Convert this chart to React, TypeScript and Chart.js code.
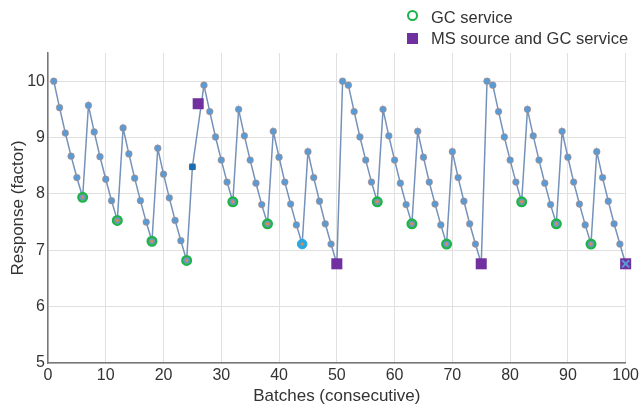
import React, { useEffect, useRef } from "react";
import { Chart, registerables } from "chart.js";

Chart.register(...registerables);

const FONT = "'Liberation Sans', Arial, sans-serif";

const batches: number[] = Array.from({ length: 100 }, (_, i) => i + 1);

const response: (number | null)[] = [
  10.0, 9.53, 9.08, 8.67, 8.29, 7.94,
  9.57, 9.1, 8.66, 8.26, 7.88, 7.53,
  9.17, 8.71, 8.28, 7.88, 7.5, 7.16,
  8.81, 8.35, 7.93, 7.53, 7.17, 6.82,
  8.48, null,
  9.93, 9.46, 9.01, 8.6, 8.21, 7.86,
  9.5, 9.03, 8.6, 8.19, 7.81, 7.47,
  9.11, 8.65, 8.21, 7.82, 7.45, 7.11,
  8.75, 8.29, 7.87, 7.47, 7.11, 6.76,
  10.0, 9.93, 9.46, 9.01, 8.6, 8.21, 7.86,
  9.5, 9.03, 8.6, 8.19, 7.81, 7.47,
  9.11, 8.65, 8.21, 7.82, 7.45, 7.11,
  8.75, 8.29, 7.87, 7.47, 7.11, 6.76,
  10.0, 9.93, 9.46, 9.01, 8.6, 8.21, 7.86,
  9.5, 9.03, 8.6, 8.19, 7.81, 7.47,
  9.11, 8.65, 8.21, 7.82, 7.45, 7.11,
  8.75, 8.29, 7.87, 7.47, 7.11, 6.76,
];

const gcServiceBatches = [6, 12, 18, 24, 32, 38, 57, 63, 69, 82, 88, 94];
const highlightBatches = [44];
const interimBatches = [25];
const msSourceBatches = [26, 50, 75, 100];
const msSourceValues = [9.6, 6.76, 6.76, 6.76];
const lastBatches = [100];

const xTicks = { min: 0, max: 100, step: 10 };
const yTicks = { min: 5, max: 10.5, step: 1 };

const pts = (list: number[]) =>
  list.map((b) => ({ x: b, y: response[b - 1] as number }));

export default function App() {
  const ref = useRef<HTMLCanvasElement | null>(null);

  useEffect(() => {
    if (!ref.current) return;
    const tickFont = { family: FONT, size: 16 };
    const titleFont = { family: FONT, size: 17 };
    const chart = new Chart(ref.current, {
      type: "line",
      data: {
        datasets: [
          {
            label: "X",
            data: pts(lastBatches),
            showLine: false,
            pointStyle: "crossRot",
            pointRadius: 5,
            pointBorderColor: "#5b9bd5",
            pointBorderWidth: 2,
            clip: false,
            order: 1,
          },
          {
            label: "interim",
            data: pts(interimBatches),
            showLine: false,
            pointStyle: "rect",
            pointRadius: 4.5,
            pointBackgroundColor: "#1b6cb3",
            pointBorderWidth: 0,
            clip: false,
            order: 2,
          },
          {
            label: "MS source and GC service",
            data: msSourceBatches.map((b, i) => ({ x: b, y: msSourceValues[i] })),
            showLine: false,
            pointStyle: "rect",
            pointRadius: 7.8,
            pointBackgroundColor: "#7030a0",
            pointBorderWidth: 0,
            clip: false,
            order: 3,
          },
          {
            label: "centers",
            data: pts([...gcServiceBatches, ...highlightBatches]),
            showLine: false,
            pointRadius: 1.7,
            pointBackgroundColor: "#d98a5a",
            pointBorderWidth: 0,
            clip: false,
            order: 4,
          },
          {
            label: "GC service",
            data: pts(gcServiceBatches),
            showLine: false,
            pointRadius: 4.3,
            pointBackgroundColor: "rgba(0,0,0,0)",
            pointBorderColor: "#1db34b",
            pointBorderWidth: 2.4,
            clip: false,
            order: 5,
          },
          {
            label: "highlight",
            data: pts(highlightBatches),
            showLine: false,
            pointRadius: 4.8,
            pointBackgroundColor: "#27a9e1",
            pointBorderColor: "#27a9e1",
            pointBorderWidth: 1,
            clip: false,
            order: 6,
          },
          {
            label: "Response",
            data: response.map((y, i) => ({ x: batches[i], y })),
            borderColor: "#7592bb",
            borderWidth: 1.5,
            pointRadius: 3.4,
            pointBackgroundColor: "#5b9bd5",
            pointBorderColor: "rgba(230,130,70,0.5)",
            pointBorderWidth: 0.8,
            spanGaps: true,
            tension: 0,
            order: 10,
          },
        ],
      },
      options: {
        animation: false,
        responsive: false,
        devicePixelRatio: 1,
        layout: { padding: { top: 53, right: 15, left: 0, bottom: 0 } },
        plugins: {
          legend: { display: false },
          tooltip: { enabled: false },
        },
        scales: {
          x: {
            type: "linear",
            min: xTicks.min,
            max: xTicks.max,
            ticks: {
              stepSize: xTicks.step,
              padding: 3,
              color: "#333",
              font: tickFont,
              maxRotation: 0,
            },
            grid: { color: "#e0e0e0", drawTicks: false, lineWidth: 1 },
            border: { color: "#777", width: 1.5 },
            title: {
              display: true,
              text: "Batches (consecutive)",
              color: "#333",
              font: titleFont,
              padding: { top: 0, bottom: 1 },
            },
            afterFit: (s: any) => {
              s.height = 45;
            },
          },
          y: {
            min: yTicks.min,
            max: yTicks.max,
            ticks: {
              stepSize: yTicks.step,
              includeBounds: false,
              padding: 3,
              color: "#333",
              font: tickFont,
            },
            grid: { color: "#e0e0e0", drawTicks: false, lineWidth: 1 },
            border: { color: "#777", width: 1.5 },
            title: {
              display: true,
              text: "Response (factor)",
              color: "#333",
              font: titleFont,
              padding: { top: 8, bottom: 0 },
            },
            afterFit: (s: any) => {
              s.width = 48;
            },
          },
        },
      },
    });
    return () => chart.destroy();
  }, []);

  const legendText: React.CSSProperties = {
    position: "absolute",
    left: 431,
    fontFamily: FONT,
    fontSize: 16.5,
    color: "#333",
    lineHeight: "20px",
    whiteSpace: "nowrap",
  };

  return (
    <div
      style={{
        position: "fixed",
        left: 0,
        top: 0,
        width: 642,
        height: 408,
        background: "#fff",
      }}
    >
      <canvas ref={ref} width={642} height={408} style={{ display: "block" }} />
      <div
        style={{
          position: "absolute",
          left: 407,
          top: 10,
          width: 11,
          height: 11,
          boxSizing: "border-box",
          border: "2.5px solid #1db34b",
          borderRadius: "50%",
        }}
      />
      <div style={{ ...legendText, top: 7 }}>GC service</div>
      <div
        style={{
          position: "absolute",
          left: 407,
          top: 33,
          width: 11,
          height: 11,
          background: "#7030a0",
        }}
      />
      <div style={{ ...legendText, top: 28 }}>MS source and GC service</div>
    </div>
  );
}
